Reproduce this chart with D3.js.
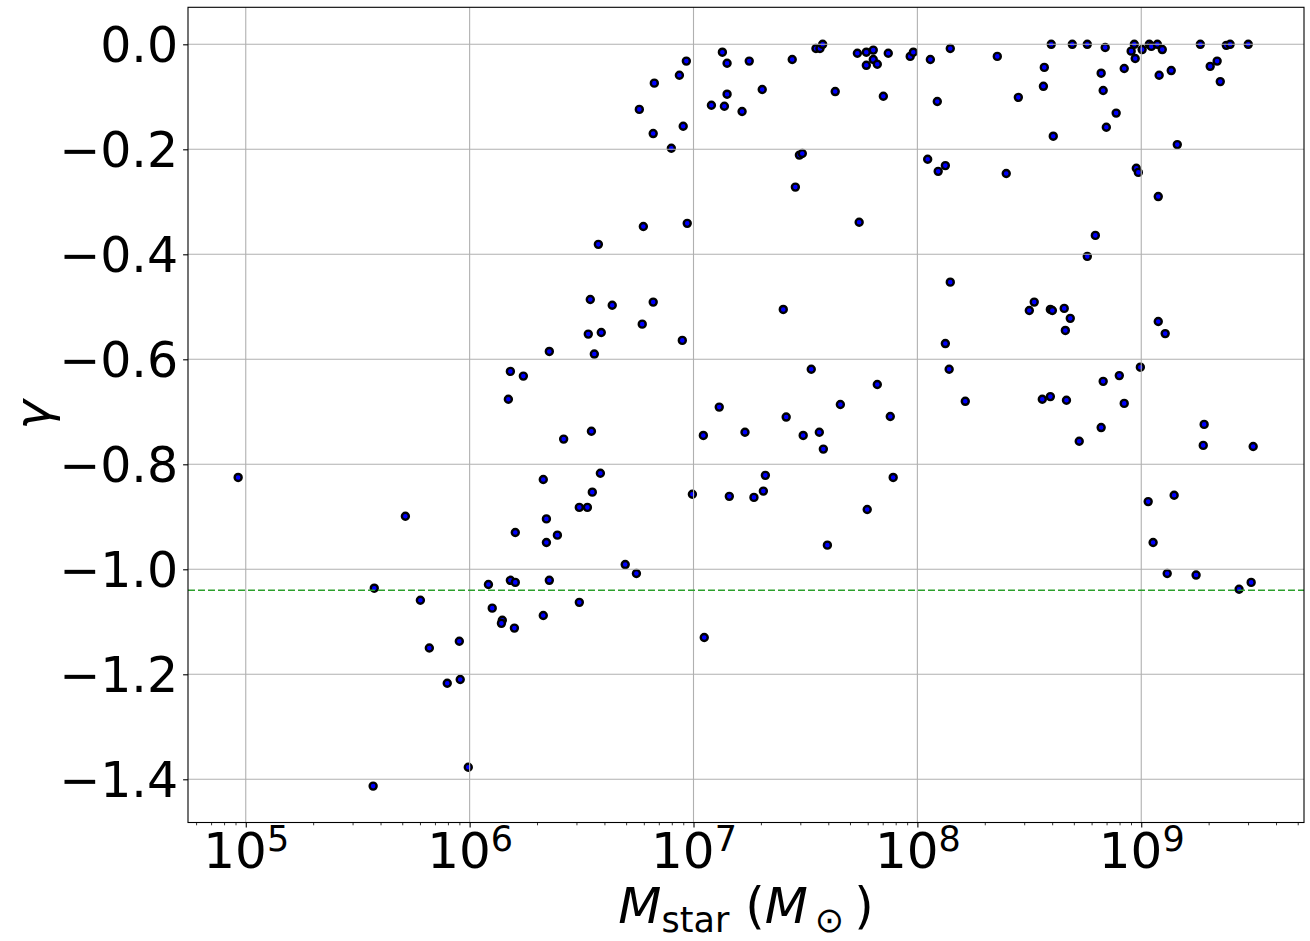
<!DOCTYPE html>
<html>
<head>
<meta charset="utf-8">
<script src="https://cdn.jsdelivr.net/npm/d3@7/dist/d3.min.js"></script>
<style>
  html, body { margin: 0; padding: 0; background: #fff; }
  svg { display: block; }
  text { font-family: "DejaVu Sans", sans-serif; fill: #000; }
</style>
</head>
<body>
<svg id="chart" width="1310" height="941"></svg>
<script>
// log10 of stellar mass (Msun) for each galaxy
const logMstar = [
  4.966, 5.713, 5.574, 5.780, 5.820, 5.954, 5.900, 5.958, 5.994, 5.569,
  7.129, 6.968, 7.150, 7.249, 6.937, 6.825, 7.307, 7.150, 7.080, 7.138,
  7.217, 6.758, 6.954, 6.820, 6.901, 6.972, 6.776, 6.575, 6.539, 6.637,
  6.820, 6.771, 6.588, 6.530, 6.950, 6.356, 6.557, 6.182, 6.240, 6.173,
  7.115, 6.420, 6.544, 7.044, 7.230, 6.584, 6.329, 6.548, 6.995, 7.160,
  7.270, 6.490, 6.526, 6.343, 6.204, 6.392, 6.343, 6.695, 6.745, 6.084,
  6.182, 6.204, 6.356, 6.490, 6.101, 6.329, 6.146, 6.142, 6.200, 7.048,
  7.441, 7.547, 7.565, 7.577, 7.732, 7.772, 7.803, 7.803, 7.772, 7.821,
  7.870, 7.968, 7.982, 8.058, 8.147, 8.357, 7.633, 7.848, 8.089, 8.451,
  7.473, 7.486, 8.046, 8.125, 8.093, 8.397, 7.455, 7.740, 8.147, 8.522,
  8.500, 7.401, 8.125, 8.142, 7.526, 7.821, 8.214, 7.656, 7.414, 7.879,
  7.490, 7.562, 7.580, 7.321, 7.892, 7.312, 7.776, 7.598, 8.598, 8.692,
  8.759, 8.839, 8.969, 8.955, 8.973, 9.004, 9.036, 9.045, 9.072, 9.094,
  9.264, 9.380, 9.397, 9.478, 9.339, 9.308, 9.353, 8.567, 8.563, 8.924,
  8.821, 8.830, 9.080, 9.134, 8.888, 8.844, 8.607, 9.161, 8.978, 8.987,
  9.076, 8.795, 8.759, 8.594, 8.603, 8.656, 8.683, 8.661, 9.076, 9.107,
  8.996, 8.902, 8.830, 8.558, 8.594, 8.666, 8.924, 8.821, 8.723, 9.281,
  9.277, 9.500, 9.031, 9.147, 9.053, 9.116, 9.245, 9.437, 9.491
];
// inner density slope gamma
const gamma = [
  -0.825, -0.899, -1.036, -1.059, -1.150, -1.137, -1.217, -1.210, -1.377, -1.413,
  -0.015, -0.032, -0.036, -0.032, -0.059, -0.074, -0.086, -0.095, -0.116, -0.118,
  -0.128, -0.124, -0.156, -0.170, -0.198, -0.341, -0.347, -0.381, -0.486, -0.497,
  -0.491, -0.533, -0.549, -0.552, -0.564, -0.585, -0.590, -0.623, -0.632, -0.676,
  -0.691, -0.752, -0.737, -0.745, -0.739, -0.817, -0.829, -0.853, -0.857, -0.861,
  -0.863, -0.882, -0.882, -0.904, -0.930, -0.935, -0.949, -0.991, -1.008, -1.029,
  -1.021, -1.025, -1.021, -1.063, -1.074, -1.088, -1.097, -1.103, -1.112, -1.130,
  -0.029, -0.008, -0.008, 0.000, -0.017, -0.015, -0.011, -0.029, -0.040, -0.038,
  -0.017, -0.023, -0.015, -0.029, -0.008, -0.023, -0.090, -0.099, -0.109, -0.101,
  -0.211, -0.208, -0.219, -0.231, -0.242, -0.246, -0.272, -0.339, -0.453, -0.491,
  -0.507, -0.505, -0.570, -0.619, -0.619, -0.648, -0.680, -0.686, -0.710, -0.709,
  -0.745, -0.739, -0.771, -0.821, -0.825, -0.851, -0.886, -0.954, 0.000, 0.000,
  0.000, -0.006, 0.000, -0.013, -0.027, -0.010, 0.000, -0.004, 0.000, -0.010,
  0.000, -0.002, 0.000, 0.000, -0.032, -0.042, -0.071, -0.044, -0.080, -0.046,
  -0.055, -0.088, -0.059, -0.050, -0.131, -0.158, -0.175, -0.191, -0.236, -0.244,
  -0.290, -0.364, -0.404, -0.505, -0.507, -0.503, -0.522, -0.545, -0.528, -0.551,
  -0.615, -0.631, -0.642, -0.676, -0.671, -0.678, -0.684, -0.730, -0.756, -0.724,
  -0.764, -0.766, -0.871, -0.859, -0.949, -1.008, -1.011, -1.038, -1.025
];
const refGamma = -1.04;
const xTickExps = [5, 6, 7, 8, 9];
const yTicks = [0.0, -0.2, -0.4, -0.6, -0.8, -1.0, -1.2, -1.4];
const xDomainLog = [4.742, 9.727];
const yDomain = [-1.4823, 0.0705];

const svg = d3.select("#chart");
const L = 188, R = 1304, T = 7.3, B = 822.5;

const x = d3.scaleLog().domain(xDomainLog.map(v => Math.pow(10, v))).range([L, R]);
const y = d3.scaleLinear().domain(yDomain).range([B, T]);

const data = logMstar.map((lm, i) => ({ m: Math.pow(10, lm), g: gamma[i] }));

// points (below grid, as in matplotlib default)
svg.append("g").selectAll("circle").data(data).join("circle")
  .attr("cx", d => x(d.m)).attr("cy", d => y(d.g)).attr("r", 3.5)
  .attr("fill", "#0000ff").attr("stroke", "#000").attr("stroke-width", 2.4);

// grid
const grid = svg.append("g").attr("stroke", "#b0b0b0").attr("stroke-width", 1.1);
xTickExps.forEach(e => {
  const px = x(Math.pow(10, e));
  grid.append("line").attr("x1", px).attr("x2", px).attr("y1", T).attr("y2", B);
});
yTicks.forEach(v => {
  const py = y(v);
  grid.append("line").attr("x1", L).attr("x2", R).attr("y1", py).attr("y2", py);
});

// reference dashed line
svg.append("line")
  .attr("x1", L).attr("x2", R).attr("y1", y(refGamma)).attr("y2", y(refGamma))
  .attr("stroke", "#2ca02c").attr("stroke-width", 1.5).attr("stroke-dasharray", "7,3");

// axes with d3 axis generators
const yAxis = d3.axisLeft(y).tickValues(yTicks).tickSize(4.9).tickPadding(5)
  .tickFormat(d => d3.format(".1f")(d).replace("-", "\u2212"));
const gy = svg.append("g").attr("transform", `translate(${L},0)`).call(yAxis);
gy.select(".domain").remove();
gy.selectAll("text").attr("font-size", 49).attr("font-family", "DejaVu Sans").attr("dy", "0.36em");
gy.selectAll("line").attr("stroke", "#000").attr("stroke-width", 1.1);

// minor x ticks
const minorVals = [];
for (let e = 4; e <= 9; e++) for (let k = 2; k <= 9; k++) {
  const v = k * Math.pow(10, e);
  if (v > x.domain()[0] && v < x.domain()[1]) minorVals.push(v);
}
const xMinor = d3.axisBottom(x).tickValues(minorVals).tickSize(2.8).tickFormat("");
const gxm = svg.append("g").attr("transform", `translate(0,${B})`).call(xMinor);
gxm.select(".domain").remove();
gxm.selectAll("line").attr("stroke", "#000").attr("stroke-width", 0.8);

const xAxis = d3.axisBottom(x).tickValues(xTickExps.map(e => Math.pow(10, e))).tickSize(4.9).tickFormat("");
const gx = svg.append("g").attr("transform", `translate(0,${B})`).call(xAxis);
gx.select(".domain").remove();
gx.selectAll("line").attr("stroke", "#000").attr("stroke-width", 1.1);
gx.selectAll(".tick").each(function(d) {
  const t = d3.select(this).append("text")
    .attr("y", 868).attr("transform", `translate(0,${-B})`)
    .attr("text-anchor", "middle").attr("font-size", 50).attr("fill", "#000");
  t.append("tspan").text("10");
  t.append("tspan").attr("font-size", 35).attr("dy", -17).text(String(Math.round(Math.log10(d))));
});

// frame
svg.append("rect").attr("x", L).attr("y", T).attr("width", R - L).attr("height", B - T)
  .attr("fill", "none").attr("stroke", "#000").attr("stroke-width", 1.1);

// axis labels
const xl = svg.append("text").attr("x", (L + R) / 2).attr("y", 923)
  .attr("text-anchor", "middle").attr("font-size", 50);
xl.append("tspan").attr("font-style", "italic").text("M");
xl.append("tspan").attr("font-size", 35).attr("dy", 9).text("star");
xl.append("tspan").attr("dy", -9).text("\u00a0(");
xl.append("tspan").attr("font-style", "italic").text("M");
xl.append("tspan").attr("font-size", 35).attr("dy", 9).text("\u2009\u2299");
xl.append("tspan").attr("dy", -9).text("\u2009)");

svg.append("text")
  .attr("transform", `translate(50,${(T + B) / 2}) rotate(-90)`)
  .attr("text-anchor", "middle").attr("font-size", 50).attr("font-style", "italic")
  .text("\u03b3");
</script>
</body>
</html>
